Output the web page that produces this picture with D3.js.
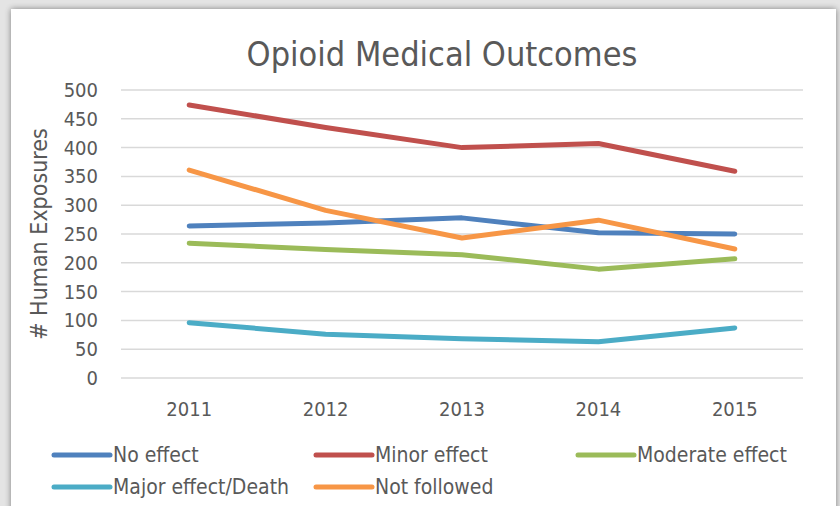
<!DOCTYPE html>
<html>
<head>
<meta charset="UTF-8">
<title>Opioid Medical Outcomes</title>
<script src="https://d3js.org/d3.v7.min.js"></script>
<style>
  body { margin: 0; background: #e4e4e4; overflow: hidden; }
  svg { display: block; }
  text { font-family: "Liberation Sans Narrow", "DejaVu Sans Condensed", "Open Sans", sans-serif; fill: #595959; }
</style>
</head>
<body>
<div id="chart"></div>
<script>
// data
var years = ["2011", "2012", "2013", "2014", "2015"];
var noEffect = [264, 269, 278, 252, 250];
var minorEffect = [474, 435, 400, 407, 359];
var moderateEffect = [234, 223, 214, 189, 207];
var majorEffect = [96, 76, 68, 63, 87];
var notFollowed = [361, 291, 243, 274, 224];
var yTicks = [0, 50, 100, 150, 200, 250, 300, 350, 400, 450, 500];

var series = [
  { name: "No effect", values: noEffect, color: "#4f81bd" },
  { name: "Minor effect", values: minorEffect, color: "#c0504d" },
  { name: "Moderate effect", values: moderateEffect, color: "#9bbb59" },
  { name: "Major effect/Death", values: majorEffect, color: "#4bacc6" },
  { name: "Not followed", values: notFollowed, color: "#f79646" }
];

var W = 840, H = 506;
var svg = d3.select("#chart").append("svg")
  .attr("width", W).attr("height", H);

// drop shadow for the white chart panel
var defs = svg.append("defs");
var f = defs.append("filter").attr("id", "shadow")
  .attr("x", "-5%").attr("y", "-5%").attr("width", "110%").attr("height", "110%");
f.append("feGaussianBlur").attr("in", "SourceAlpha").attr("stdDeviation", 3);
f.append("feOffset").attr("dx", 0).attr("dy", 0).attr("result", "b");
f.append("feComponentTransfer").append("feFuncA").attr("type", "linear").attr("slope", 0.45);
var m = f.append("feMerge");
m.append("feMergeNode");
m.append("feMergeNode").attr("in", "SourceGraphic");

svg.append("rect")
  .attr("x", 11).attr("y", 9).attr("width", 825).attr("height", 520)
  .attr("fill", "#fff")
  .attr("filter", "url(#shadow)");

var margin = { top: 90, left: 121, right: 37, bottom: 128 };
var plotW = W - margin.left - margin.right,
    plotH = H - margin.top - margin.bottom;

var g = svg.append("g")
  .attr("transform", "translate(" + margin.left + "," + margin.top + ")");

var x = d3.scalePoint().domain(years).range([0, plotW]).padding(0.5);
var y = d3.scaleLinear().domain([0, 500]).range([plotH, 0]);

// gridlines
g.selectAll(".grid")
  .data(yTicks)
  .enter().append("line")
  .attr("x1", 0).attr("x2", plotW)
  .attr("y1", function (d) { return y(d); })
  .attr("y2", function (d) { return y(d); })
  .attr("stroke", "#d9d9d9")
  .attr("stroke-width", 1.5);

// y tick labels
g.selectAll(".ylab")
  .data(yTicks)
  .enter().append("text")
  .attr("x", -23)
  .attr("y", function (d) { return y(d); })
  .attr("dy", "0.35em")
  .attr("text-anchor", "end")
  .style("font-size", "20px")
  .text(function (d) { return d; });

// x tick labels
g.selectAll(".xlab")
  .data(years)
  .enter().append("text")
  .attr("x", function (d) { return x(d); })
  .attr("y", plotH + 38)
  .attr("text-anchor", "middle")
  .style("font-size", "20px")
  .text(function (d) { return d; });

// lines
var line = d3.line()
  .x(function (d, i) { return x(years[i]); })
  .y(function (d) { return y(d); });

g.selectAll(".series")
  .data(series)
  .enter().append("path")
  .attr("d", function (d) { return line(d.values); })
  .attr("fill", "none")
  .attr("stroke", function (d) { return d.color; })
  .attr("stroke-width", 5)
  .attr("stroke-linecap", "round")
  .attr("stroke-linejoin", "round");

// title
svg.append("text")
  .attr("x", 442).attr("y", 66)
  .attr("text-anchor", "middle")
  .style("font-size", "34px")
  .text("Opioid Medical Outcomes");

// y axis title
svg.append("text")
  .attr("transform", "translate(47," + (margin.top + plotH / 2) + ") rotate(-90)")
  .attr("text-anchor", "middle")
  .style("font-size", "23px")
  .text("# Human Exposures");

// legend
var colX = [54, 316, 578];
var rowY = [455, 487];
var leg = svg.selectAll(".leg")
  .data(series)
  .enter().append("g")
  .attr("transform", function (d, i) {
    return "translate(" + colX[i % 3] + "," + rowY[Math.floor(i / 3)] + ")";
  });
leg.append("line")
  .attr("x1", 0).attr("x2", 56)
  .attr("y1", 0).attr("y2", 0)
  .attr("stroke", function (d) { return d.color; })
  .attr("stroke-width", 5)
  .attr("stroke-linecap", "round");
leg.append("text")
  .attr("x", 59).attr("y", 0)
  .attr("dy", "0.35em")
  .style("font-size", "21px")
  .text(function (d) { return d.name; });
</script>
</body>
</html>
